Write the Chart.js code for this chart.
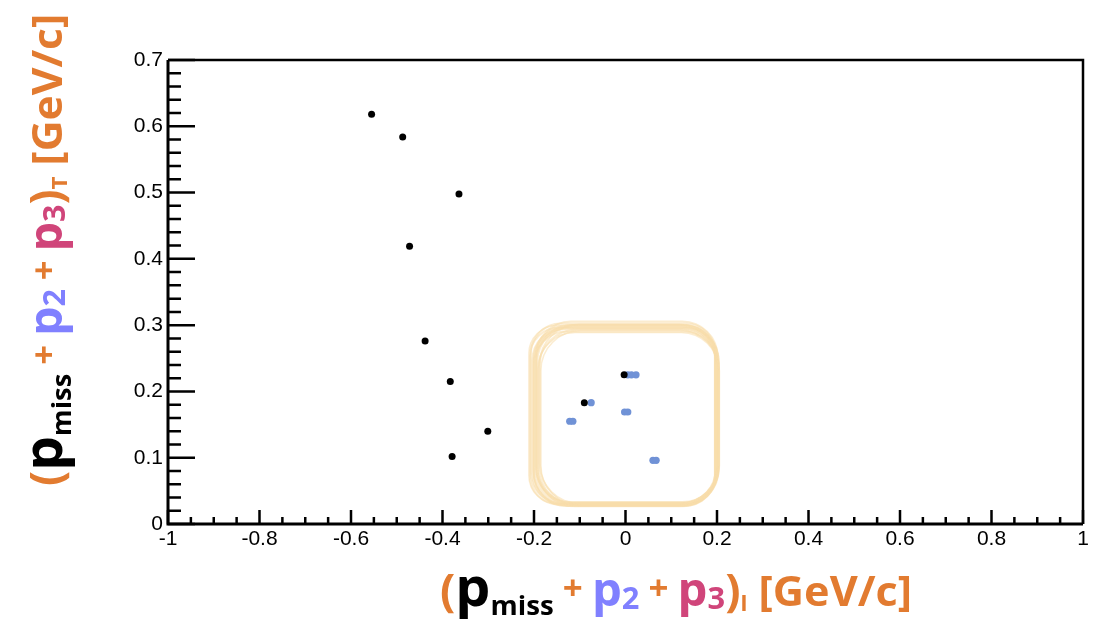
<!DOCTYPE html>
<html>
<head>
<meta charset="utf-8">
<script src="https://cdn.jsdelivr.net/npm/chart.js@4"></script>
<style>
  html, body { margin: 0; padding: 0; background: #fff; }
  #wrap { width: 1102px; height: 634px; }
</style>
</head>
<body>
<div id="wrap"><canvas id="chart" width="1102" height="634"></canvas></div>
<script>
// events (longitudinal, transverse momentum sums)
const blackX = [-0.555, -0.487, -0.364, -0.472, -0.438, -0.383, -0.301, -0.379, -0.003, -0.090];
const blackY = [0.618, 0.584, 0.498, 0.419, 0.276, 0.215, 0.140, 0.102, 0.225, 0.183];
const blueX = [0.005, 0.013, 0.023, -0.075, -0.002, 0.005, -0.122, -0.115, 0.060, 0.067];
const blueY = [0.225, 0.225, 0.225, 0.183, 0.169, 0.169, 0.155, 0.155, 0.096, 0.096];

// highlighted region
const boxX = [-0.198, 0.200];
const boxY = [0.030, 0.298];

// axis ranges and tick steps
const xRange = [-1, 1], xMajor = 0.2, xMinor = 0.05;
const yRange = [0, 0.7], yMajor = 0.1, yMinor = 0.02;

const ORANGE = '#e27b30';
const BLUE = '#8080ff';
const PINK = '#d0457a';

const toPoints = (xs, ys) => xs.map((x, i) => ({ x: x, y: ys[i] }));
const fmt = v => String(Number(v.toFixed(2)));

// rounded, hand-drawn looking frame around the central cluster
const sketchBox = {
    id: 'sketchBox',
    beforeDatasetsDraw(chart) {
        const { ctx, scales: { x, y } } = chart;
        const l = x.getPixelForValue(boxX[0]), r = x.getPixelForValue(boxX[1]);
        const t = y.getPixelForValue(boxY[1]), b = y.getPixelForValue(boxY[0]);
        const passes = [[0, 0, 5], [2, -1, 3], [-2, 2, 3], [4, 3, 2], [-4, -3, 2], [1, -5, 2],
                        [-5, 1, 2], [5, -2, 2], [-1, 5, 2], [3, 6, 1.5], [-6, -1, 1.5], [6, 4, 1.5]];
        ctx.save();
        ctx.strokeStyle = '#f7dcaa';
        ctx.globalAlpha = 0.55;
        passes.forEach(([dx, dy, w]) => {
            ctx.lineWidth = w;
            ctx.beginPath();
            ctx.roundRect(l + dx, t + dy, r - l - dx * 0.6, b - t - dy * 0.6, 34 + dx);
            ctx.stroke();
        });
        ctx.restore();
    }
};

// ROOT style frame with inward ticks and coloured axis titles
const frameTicks = {
    id: 'frameTicks',
    afterDraw(chart) {
        const { ctx, chartArea: a, scales: { x, y } } = chart;
        ctx.save();
        ctx.strokeStyle = '#000';
        ctx.lineCap = 'butt';

        ctx.lineWidth = 2.5;
        ctx.beginPath();
        ctx.moveTo(a.left, a.top); ctx.lineTo(a.right, a.top); ctx.lineTo(a.right, a.bottom);
        ctx.stroke();

        ctx.lineWidth = 3;
        ctx.beginPath();
        ctx.moveTo(a.left, a.top); ctx.lineTo(a.left, a.bottom); ctx.lineTo(a.right, a.bottom);
        ctx.stroke();

        ctx.lineWidth = 2.5;
        ctx.beginPath();
        const nx = Math.round((xRange[1] - xRange[0]) / xMinor);
        for (let i = 0; i <= nx; i++) {
            const px = x.getPixelForValue(xRange[0] + i * xMinor);
            const major = i % Math.round(xMajor / xMinor) === 0;
            ctx.moveTo(px, a.bottom);
            ctx.lineTo(px, a.bottom - (major ? 14 : 7));
        }
        const ny = Math.round((yRange[1] - yRange[0]) / yMinor);
        for (let i = 0; i <= ny; i++) {
            const py = y.getPixelForValue(yRange[0] + i * yMinor);
            const major = i % Math.round(yMajor / yMinor) === 0;
            ctx.moveTo(a.left, py);
            ctx.lineTo(a.left + (major ? 27 : 13), py);
        }
        ctx.stroke();
        ctx.restore();

        const segs = sub => [
            { t: '(', c: ORANGE, s: 44, dy: 0 },
            { t: 'p', c: '#000', s: 54, dy: 0 },
            { t: 'miss', c: '#000', s: 27, dy: 9 },
            { t: ' + ', c: ORANGE, s: 34, dy: -6 },
            { t: 'p', c: BLUE, s: 46, dy: 0 },
            { t: '2', c: BLUE, s: 30, dy: 3 },
            { t: ' + ', c: ORANGE, s: 34, dy: -6 },
            { t: 'p', c: PINK, s: 46, dy: 0 },
            { t: '3', c: PINK, s: 30, dy: 3 },
            { t: ')', c: ORANGE, s: 44, dy: 0 },
            { t: sub, c: ORANGE, s: 22, dy: 5 },
            { t: ' [GeV/c]', c: ORANGE, s: 42, dy: 0 }
        ];
        drawTitle(ctx, segs('l'), 440, 606, 472, 0);
        drawTitle(ctx, segs('T'), 62, 486, 472, -Math.PI / 2);
    }
};

function drawTitle(ctx, segs, x0, y0, len, angle) {
    ctx.save();
    ctx.translate(x0, y0);
    ctx.rotate(angle);
    ctx.textBaseline = 'alphabetic';
    ctx.textAlign = 'left';
    let total = 0;
    segs.forEach(s => {
        ctx.font = `bold ${s.s}px "Open Sans"`;
        s.w = ctx.measureText(s.t).width;
        total += s.w;
    });
    ctx.scale(len / total, 1);
    let pos = 0;
    segs.forEach(s => {
        ctx.font = `bold ${s.s}px "Open Sans"`;
        ctx.fillStyle = s.c;
        ctx.fillText(s.t, pos, s.dy);
        pos += s.w;
    });
    ctx.restore();
}

new Chart(document.getElementById('chart'), {
    type: 'scatter',
    data: {
        datasets: [{
            label: 'all',
            data: toPoints(blackX, blackY),
            backgroundColor: '#000',
            borderColor: '#000',
            pointRadius: 3.5,
            borderWidth: 0
        }, {
            label: 'selected',
            data: toPoints(blueX, blueY),
            backgroundColor: '#7092d6',
            borderColor: '#7092d6',
            pointRadius: 3.6,
            borderWidth: 0
        }]
    },
    options: {
        responsive: false,
        animation: false,
        events: [],
        layout: { padding: { left: 0, top: 60, right: 19, bottom: 0 } },
        plugins: { legend: { display: false }, tooltip: { enabled: false } },
        scales: {
            x: {
                type: 'linear',
                min: xRange[0], max: xRange[1],
                afterFit: s => { s.height = 110; },
                grid: { display: false, drawTicks: false },
                border: { display: false },
                ticks: {
                    stepSize: xMajor,
                    padding: 3,
                    color: '#000',
                    font: { family: '"Liberation Sans"', size: 21 },
                    maxRotation: 0,
                    callback: fmt
                }
            },
            y: {
                type: 'linear',
                min: yRange[0], max: yRange[1],
                afterFit: s => { s.width = 168; },
                grid: { display: false, drawTicks: false },
                border: { display: false },
                ticks: {
                    stepSize: yMajor,
                    padding: 5,
                    color: '#000',
                    font: { family: '"Liberation Sans"', size: 21 },
                    callback: fmt
                }
            }
        }
    },
    plugins: [sketchBox, frameTicks]
});
</script>
</body>
</html>
